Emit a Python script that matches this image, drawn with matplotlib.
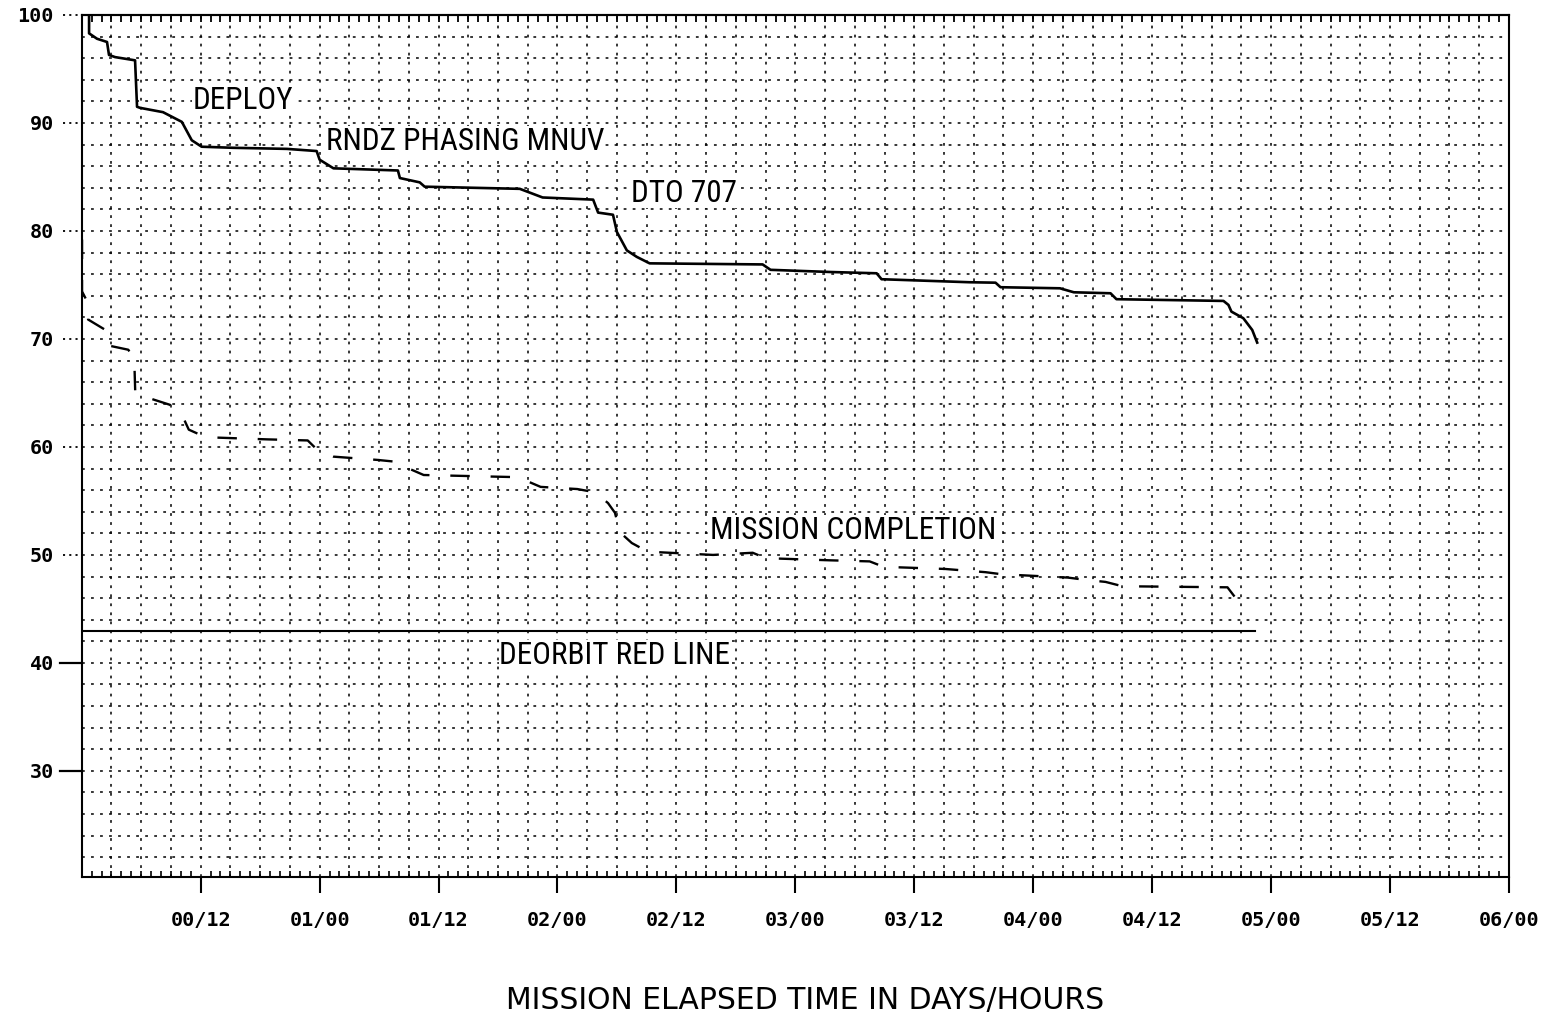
import matplotlib
matplotlib.use("Agg")
import matplotlib.pyplot as plt
from matplotlib import font_manager
from matplotlib.ticker import MultipleLocator, FixedLocator, NullFormatter
import numpy as np

plt.rcParams["lines.scale_dashes"] = False

# Propellant quantity (percent) vs mission elapsed time (hours)
planned_hours = [0.74, 0.74, 1.54, 2.55, 2.75, 3.36, 5.38, 5.58, 5.88, 8.2, 10.1,
                 11.1, 12.1, 15.3, 20.7, 23.7, 24.0, 25.4, 31.9, 32.1, 34.1, 34.6,
                 44.2, 46.5, 51.6, 52.1, 53.6, 54.0, 55.0, 56.0, 57.3, 68.7, 69.5,
                 75.5, 80.2, 80.7, 89.6, 92.2, 92.7, 98.7, 100.1, 103.8, 104.4,
                 115.2, 115.7, 116.0, 117.2, 118.1, 118.6]
planned_qty = [100.0, 98.3, 97.8, 97.5, 96.3, 96.1, 95.8, 91.5, 91.4, 91.0, 90.1,
               88.4, 87.8, 87.7, 87.6, 87.4, 86.6, 85.8, 85.6, 84.9, 84.5, 84.1,
               83.9, 83.1, 82.9, 81.7, 81.5, 79.9, 78.2, 77.6, 77.0, 76.9, 76.4,
               76.2, 76.08, 75.53, 75.25, 75.21, 74.79, 74.69, 74.32, 74.23, 73.68,
               73.52, 73.15, 72.53, 71.92, 70.83, 69.66]

completion_hours = [0.03, 0.03, 0.64, 0.64, 2.45, 2.65, 4.7, 5.3, 5.4, 7.2, 8.9,
                    10.2, 10.8, 12.5, 18.7, 22.8, 23.8, 25.4, 29.8, 32.0, 33.0,
                    34.5, 44.0, 46.3, 50.0, 51.8, 53.1, 53.8, 54.3, 55.5, 57.1,
                    63.7, 67.7, 69.0, 75.5, 79.5, 80.9, 87.1, 91.2, 92.9, 95.2,
                    99.5, 101.2, 103.3, 105.0, 115.6, 116.6, 117.6]
completion_qty = [79.2, 74.4, 73.3, 71.8, 70.8, 69.4, 69.0, 68.1, 65.0, 64.4, 63.9,
                  62.8, 61.6, 60.9, 60.7, 60.6, 59.7, 59.1, 58.8, 58.6, 58.0,
                  57.4, 57.2, 56.3, 56.1, 55.8, 54.8, 53.9, 52.1, 51.1, 50.3,
                  50.0, 50.2, 49.7, 49.5, 49.4, 48.9, 48.7, 48.4, 48.2, 48.1,
                  47.9, 47.7, 47.5, 47.1, 47.0, 45.8, 44.7]

redline_hours = [0.0, 118.4]
redline_qty = [43.0, 43.0]

# Annotations: (text, hour, quantity)
annotations = [
    ("DEPLOY", 16.3, 92.1),
    ("RNDZ PHASING MNUV", 38.7, 88.3),
    ("DTO 707", 60.8, 83.5),
    ("MISSION COMPLETION", 77.8, 52.3),
    ("DEORBIT RED LINE", 53.8, 40.7),
]

y_ticks = [30, 40, 50, 60, 70, 80, 90, 100]
x_major_hours = list(range(12, 145, 12))
x_labels = [f"{h // 24:02d}/{h % 24:02d}" for h in x_major_hours]

# pick a narrow sans face for the annotations when one is installed
fonts = font_manager.fontManager.ttflist
narrow_props = None
for fam in ["Liberation Sans Narrow", "Roboto Condensed", "Open Sans Condensed",
            "Noto Sans Condensed"]:
    if any(f.name == fam for f in fonts):
        narrow_props = dict(family=[fam, "DejaVu Sans"], fontsize=22.5)
        break
if narrow_props is None:
    cond = [f for f in fonts if f.name == "DejaVu Sans" and
            str(f.stretch) in ("condensed", "semi-condensed", "75", "87")]
    if cond:
        narrow_props = dict(family=["DejaVu Sans"], stretch="condensed", fontsize=22.5)
    else:
        narrow_props = dict(family=["DejaVu Sans"], fontsize=18)

fig = plt.figure(figsize=(15.54, 10.26), dpi=100)
ax = fig.add_axes([0.0526, 0.1455, 0.9184, 0.8399])
ax.set_xlim(0, 144)
ax.set_ylim(20.2, 100)

# dotted grid: every 3 hours and every 2 percent
grid_style = dict(color="black", linewidth=1.1, linestyle=(0, (2.0, 4.5)), zorder=1)
for gx in np.arange(3, 144, 3):
    ax.axvline(gx, **grid_style)
for gy in np.arange(22, 100, 2):
    ax.axhline(gy, **grid_style)

# curves
ax.plot(planned_hours, planned_qty, color="black", linewidth=1.9,
        solid_joinstyle="round", zorder=3)
ax.plot(completion_hours, completion_qty, color="black", linewidth=1.7,
        linestyle=(0, (14, 15)), zorder=3)
ax.plot(redline_hours, redline_qty, color="black", linewidth=1.5, zorder=3)

for text, hx, qy in annotations:
    ax.text(hx, qy, text, ha="center", va="center", color="black", zorder=4,
            bbox=dict(facecolor="white", edgecolor="none", pad=0.5),
            **narrow_props)

# spines
for s in ax.spines.values():
    s.set_linewidth(1.5)
    s.set_color("black")

# x axis: major ticks outward every 12 h, hourly minor ticks inward
ax.xaxis.set_major_locator(FixedLocator(x_major_hours))
ax.set_xticklabels(x_labels)
ax.xaxis.set_minor_locator(MultipleLocator(1))
ax.tick_params(axis="x", which="major", direction="out", length=11.5, width=1.5,
               pad=13, labelsize=14.5, bottom=True, top=False)
ax.tick_params(axis="x", which="minor", direction="in", length=4.5, width=1.2,
               bottom=True, top=False)
for lab in ax.get_xticklabels():
    lab.set_family("DejaVu Sans Mono")
    lab.set_fontweight("bold")

top = ax.secondary_xaxis("top")
top.xaxis.set_major_locator(MultipleLocator(1))
top.xaxis.set_major_formatter(NullFormatter())
top.tick_params(axis="x", which="major", direction="in", length=5, width=1.3)
top.spines["top"].set_linewidth(1.5)

# y axis
ax.yaxis.set_major_locator(FixedLocator(y_ticks))
ax.yaxis.set_minor_locator(FixedLocator([]))
ax.tick_params(axis="y", which="major", length=0, pad=20, labelsize=14.5,
               right=False)
for lab in ax.get_yticklabels():
    lab.set_family("DejaVu Sans Mono")
    lab.set_fontweight("bold")
ytr = ax.get_yaxis_transform()
for yv in y_ticks:
    if yv >= 50:
        ax.plot([-0.013, 0], [yv, yv], transform=ytr, clip_on=False, color="black",
                linewidth=1.3, linestyle=(0, (1.5, 3)))
    else:
        ax.plot([-0.015, 0], [yv, yv], transform=ytr, clip_on=False, color="black",
                linewidth=1.6)

fig.text(0.518, 0.025, "MISSION ELAPSED TIME IN DAYS/HOURS", ha="center",
         va="center", fontsize=21.5, family="DejaVu Sans", color="black")

fig.savefig("out.png", dpi=100, facecolor="white")
